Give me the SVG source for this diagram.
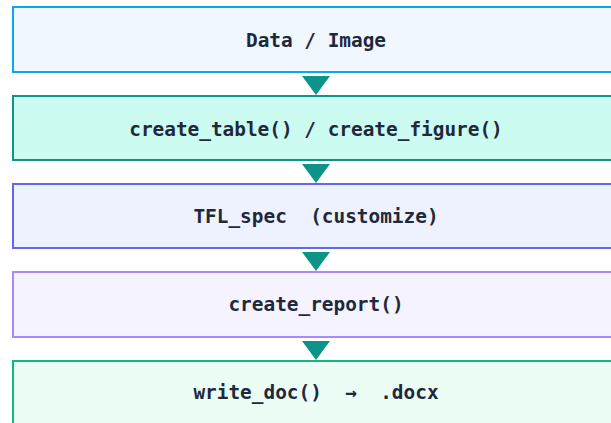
<svg xmlns="http://www.w3.org/2000/svg" width="611" height="423" viewBox="0 0 611 423">
<style>
.box{stroke-width:2}
.lbl{font-family:"DejaVu Sans Mono","Liberation Mono",monospace;font-weight:bold;font-size:19.4px;fill:#1e293b;text-anchor:middle;dominant-baseline:central}
.arr{fill:#0d9488}
</style>
<rect width="611" height="423" fill="#ffffff"/>
<g id="n1"><rect class="box" x="13" y="7" width="620" height="65" fill="#f0f7ff" stroke="#0ea5e9"/><text class="lbl" x="316" y="40">Data / Image</text></g>
<g id="n2"><rect class="box" x="13" y="96" width="620" height="64" fill="#ccfbf1" stroke="#0f9488"/><text class="lbl" x="316" y="129">create_table() / create_figure()</text></g>
<g id="n3"><rect class="box" x="13" y="184" width="620" height="64" fill="#eef2ff" stroke="#6366f1"/><text class="lbl" x="316" y="216" xml:space="preserve">TFL_spec  (customize)</text></g>
<g id="n4"><rect class="box" x="13" y="272" width="620" height="65" fill="#f5f3ff" stroke="#a78bfa"/><text class="lbl" x="316" y="304">create_report()</text></g>
<g id="n5"><rect class="box" x="13" y="361" width="620" height="80" fill="#ecfdf5" stroke="#10b981"/><text class="lbl" x="316" y="392" xml:space="preserve">write_doc()  →  .docx</text></g>
<g id="connectors">
<polygon class="arr" points="302,76 330,76 316,95"/>
<polygon class="arr" points="302,164 330,164 316,183"/>
<polygon class="arr" points="302,252 330,252 316,271"/>
<polygon class="arr" points="302,341 330,341 316,360"/>
</g>
</svg>
